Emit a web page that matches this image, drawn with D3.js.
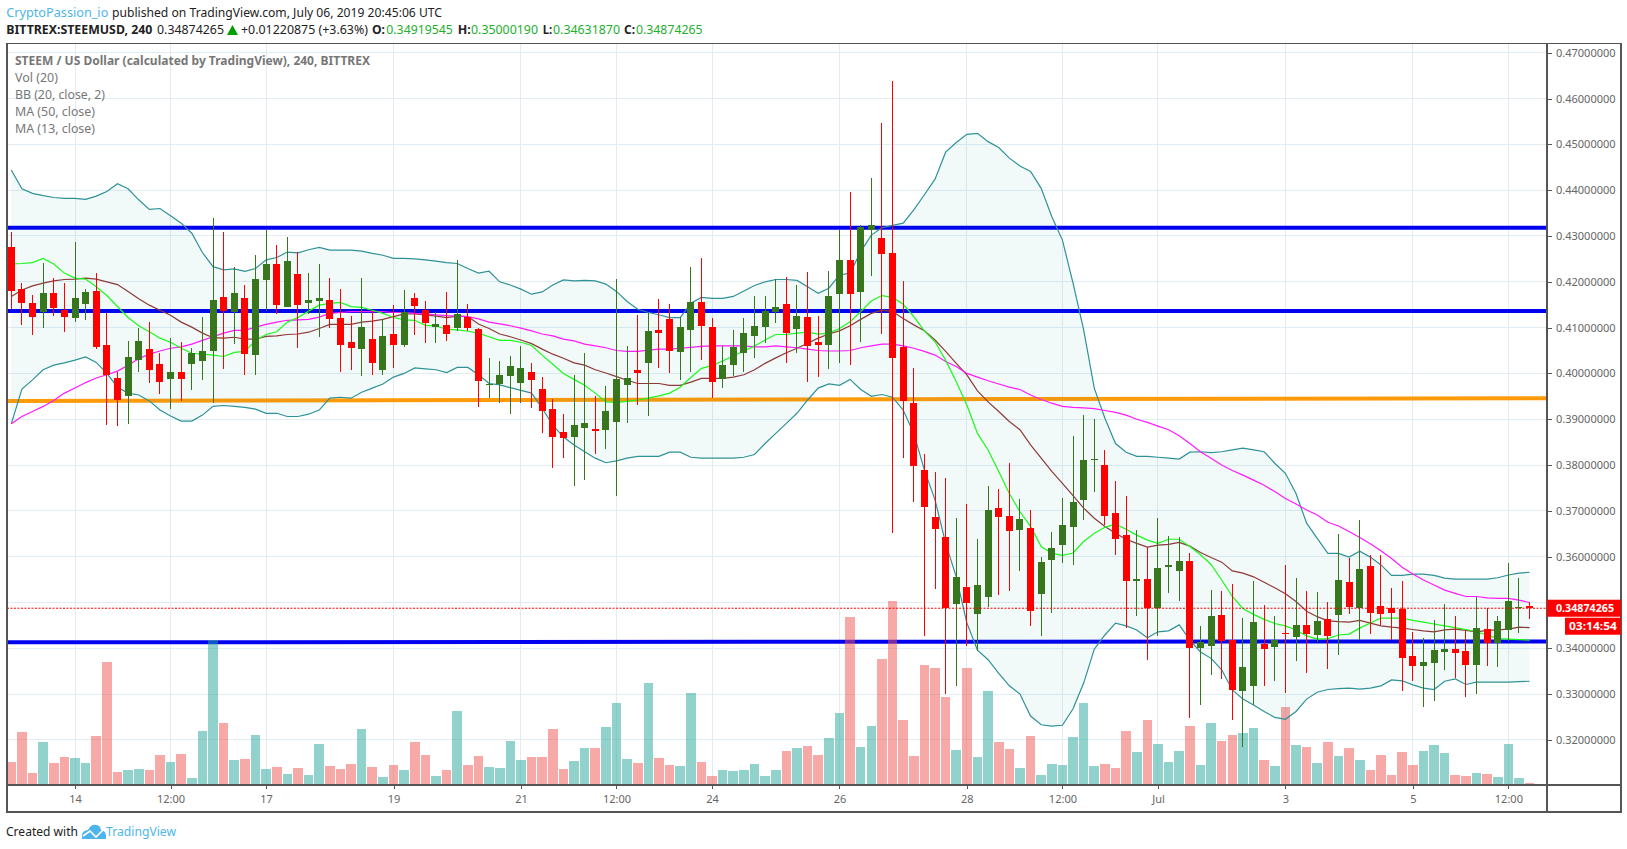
<!DOCTYPE html>
<meta charset="utf-8">
<style>
html, body { margin: 0; padding: 0; background: #fff; }
svg { display: block; font-family: "Noto Sans", "Open Sans", sans-serif; }
.grid { stroke: #e2ecf3; stroke-width: 1; shape-rendering: crispEdges; }
.frame { stroke: #555; stroke-width: 1.4; fill: none; shape-rendering: crispEdges; }
.axis text { fill: #666; font-size: 11px; font-family: "Noto Sans", sans-serif; }
.axis line { stroke: #555; shape-rendering: crispEdges; }
.legend { fill: #777; font-size: 12.5px; }
.head { fill: #222; font-size: 13px; }
.green { fill: #22b02c; }
.blue { fill: #4db5ec; }
.bold { font-weight: 700; }
.line { fill: none; stroke-width: 1.2; }
</style>
<body>
<script src="https://d3js.org/d3.v7.min.js"></script>
<script>

// prices are in 1/10000 USD
var opens = [4276,4184,4154,4134,4176,4139,4121,4152,4180,4062,
    3990,3951,4029,4053,4021,3988,4003,4021,4027,4049,
    4167,4134,4165,4040,4204,4239,4145,4217,4154,4158,
    4160,4121,4069,4053,4075,4008,4086,4062,4165,4139,
    4101,4106,4099,4123,4097,3975,3977,3994,3979,4003,
    3966,3922,3872,3861,3881,3879,3877,3894,3975,4008,
    4023,4095,4119,4047,4095,4156,4101,3988,4018,4045,
    4082,4101,4134,4152,4097,4123,4069,4062,4173,4248,
    4178,4313,4296,4263,4058,3936,3789,3687,3643,3497,
    3534,3475,3512,3706,3689,3658,3663,3519,3593,3626,
    3665,3724,3811,3800,3695,3647,3547,3551,3488,3578,
    3569,3591,3401,3405,3473,3418,3307,3318,3409,3403,
    3433,3425,3451,3429,3464,3473,3545,3488,3580,3492,
    3488,3486,3383,3361,3368,3392,3399,3394,3364,3442,
    3412,3440,3488,3492];

var highs = [4309,4197,4171,4240,4208,4197,4287,4184,4219,4132,
    4003,4071,4099,4112,4045,4077,4069,4056,4123,4339,
    4309,4232,4193,4259,4313,4280,4298,4265,4219,4239,
    4208,4184,4125,4208,4136,4118,4149,4182,4176,4158,
    4134,4178,4248,4152,4099,4034,4027,4038,4060,4023,
    3992,3944,3911,3997,4045,3951,3973,4206,4060,4128,
    4132,4162,4152,4123,4232,4252,4121,4060,4095,4121,
    4169,4169,4206,4210,4193,4221,4125,4224,4313,4396,
    4324,4427,4547,4638,4202,4012,3824,3785,3772,3684,
    3715,3639,3754,3748,3805,3726,3702,3599,3654,3728,
    3863,3909,3901,3833,3765,3732,3658,3622,3684,3645,
    3643,3608,3449,3527,3525,3540,3466,3547,3495,3471,
    3582,3553,3525,3523,3501,3650,3597,3680,3604,3604,
    3532,3547,3436,3423,3462,3497,3471,3438,3512,3487,
    3471,3586,3553,3500];

var lows = [4140,4106,4084,4099,4125,4090,4112,4117,4053,3887,
    3885,3890,4003,3979,3955,3922,3940,3964,3986,3935,
    4010,4064,3997,3997,4136,4130,4145,4056,4130,4080,
    4099,4003,4008,3994,3997,3997,4012,4058,4084,4066,
    4066,4071,4093,4093,3927,3946,3935,3912,3935,3925,
    3870,3794,3815,3754,3767,3824,3835,3732,3892,3931,
    3907,4012,4001,3986,4003,4029,3946,3968,3994,4003,
    4034,4066,4110,4023,4045,3981,3992,4010,4023,4018,
    4069,4213,4086,3652,3815,3719,3427,3530,3300,3318,
    3405,3394,3490,3516,3525,3569,3449,3427,3477,3586,
    3582,3680,3741,3669,3604,3444,3471,3375,3427,3521,
    3503,3248,3276,3342,3333,3244,3185,3276,3318,3329,
    3302,3372,3346,3414,3355,3385,3475,3418,3431,3451,
    3418,3307,3329,3272,3285,3353,3335,3294,3300,3361,
    3359,3416,3434,3463];

var closes = [4179,4154,4123,4176,4143,4123,4165,4178,4058,3997,
    3942,4036,4071,4008,3981,4003,3988,4045,4049,4160,
    4136,4176,4042,4206,4239,4149,4245,4149,4160,4165,
    4119,4062,4056,4101,4023,4082,4062,4134,4147,4110,
    4108,4086,4130,4099,3984,3977,3997,4016,4012,3986,
    3918,3861,3859,3887,3892,3874,3918,3988,3990,4001,
    4093,4088,4049,4101,4156,4104,3981,4018,4058,4088,
    4104,4136,4145,4088,4125,4060,4062,4169,4248,4173,
    4320,4324,4261,4034,3940,3798,3708,3660,3487,3556,
    3499,3538,3702,3687,3656,3682,3481,3588,3619,3669,
    3719,3811,3813,3689,3639,3547,3551,3488,3575,3582,
    3591,3401,3414,3471,3416,3309,3359,3457,3399,3418,
    3431,3451,3431,3460,3427,3549,3490,3573,3477,3475,
    3477,3379,3361,3370,3396,3399,3390,3364,3444,3412,
    3460,3503,3490,3487];

// volume has no axis on the chart, arbitrary units
var volumes = [69,159,36,129,66,84,81,66,147,369,
    39,45,48,45,90,69,93,21,162,435,
    186,75,78,150,48,54,33,51,30,123,
    57,48,63,168,54,24,60,45,129,90,
    27,45,222,60,87,54,51,132,75,84,
    84,168,48,72,111,111,174,246,78,66,
    306,81,60,57,276,69,27,45,42,45,
    63,27,45,102,111,117,90,141,216,504,
    114,177,378,552,195,87,360,351,264,105,
    351,84,282,129,108,51,147,30,63,60,
    144,246,57,63,51,162,99,195,123,69,
    102,177,60,186,132,150,156,171,75,57,
    234,120,114,66,129,87,111,75,45,90,
    30,99,60,102,120,96,30,27,36,33,
    24,123,21,6];

var bbUpper = [4444,4403,4393,4388,4384,4382,4382,4380,4387,4397,
    4414,4403,4379,4358,4360,4344,4328,4306,4264,4233,
    4226,4228,4223,4229,4248,4253,4265,4263,4270,4275,
    4269,4269,4269,4267,4262,4258,4251,4251,4250,4248,
    4245,4242,4240,4229,4219,4223,4200,4193,4184,4173,
    4178,4193,4204,4202,4203,4202,4195,4179,4157,4140,
    4133,4128,4122,4122,4153,4166,4164,4164,4168,4180,
    4192,4200,4205,4205,4203,4189,4175,4186,4215,4219,
    4266,4302,4318,4323,4328,4357,4390,4424,4483,4504,
    4522,4524,4506,4493,4470,4453,4441,4404,4342,4291,
    4197,4095,3968,3902,3847,3828,3819,3819,3817,3815,
    3813,3828,3829,3827,3829,3833,3837,3833,3829,3804,
    3782,3738,3673,3640,3607,3607,3599,3612,3599,3582,
    3559,3559,3562,3562,3559,3553,3551,3551,3551,3551,
    3554,3560,3564,3566];

var bbLower = [3890,3966,3986,4008,4018,4023,4029,4036,4024,4000,
    3970,3957,3953,3940,3920,3907,3896,3896,3909,3928,
    3930,3928,3926,3922,3913,3913,3906,3906,3911,3920,
    3946,3948,3946,3959,3968,3977,3992,4000,4012,4010,
    4008,4002,4013,4013,3997,3978,3975,3969,3963,3957,
    3924,3887,3861,3844,3829,3815,3805,3809,3815,3819,
    3819,3819,3828,3828,3817,3815,3815,3815,3815,3817,
    3823,3847,3869,3891,3913,3942,3968,3977,3974,3987,
    3965,3950,3954,3948,3920,3869,3789,3724,3629,3556,
    3455,3396,3375,3345,3318,3300,3252,3233,3230,3232,
    3268,3324,3398,3429,3455,3449,3440,3423,3436,3438,
    3451,3418,3392,3378,3353,3309,3289,3276,3262,3249,
    3245,3262,3289,3304,3310,3312,3313,3311,3313,3318,
    3331,3329,3320,3313,3310,3328,3333,3321,3326,3326,
    3326,3326,3327,3328];

var bbBasis = [4168,4182,4191,4197,4202,4205,4206,4208,4206,4200,
    4194,4179,4163,4149,4138,4127,4112,4101,4088,4078,
    4077,4079,4075,4075,4081,4082,4085,4086,4090,4098,
    4107,4107,4107,4112,4114,4118,4124,4130,4130,4128,
    4125,4122,4125,4124,4108,4098,4086,4080,4073,4065,
    4053,4042,4033,4023,4018,4008,4001,3993,3985,3978,
    3978,3978,3974,3974,3981,3989,3989,3989,3992,3997,
    4008,4022,4034,4045,4055,4066,4077,4086,4093,4104,
    4118,4131,4138,4135,4120,4106,4093,4073,4048,4022,
    3997,3962,3938,3917,3895,3877,3844,3815,3786,3760,
    3733,3706,3684,3666,3651,3638,3629,3621,3625,3627,
    3631,3623,3609,3598,3588,3569,3564,3556,3544,3532,
    3519,3502,3481,3469,3460,3458,3457,3461,3455,3449,
    3446,3444,3441,3438,3436,3440,3442,3439,3436,3439,
    3440,3442,3446,3445];

var ma13 = [4239,4240,4242,4251,4239,4219,4208,4206,4189,4170,
    4146,4122,4104,4091,4077,4068,4055,4044,4042,4040,
    4037,4046,4048,4072,4085,4091,4112,4122,4136,4149,
    4153,4155,4146,4144,4138,4131,4122,4117,4116,4105,
    4104,4096,4095,4092,4088,4080,4072,4072,4068,4061,
    4040,4020,4000,3987,3974,3957,3938,3937,3939,3942,
    3946,3951,3957,3970,3991,4011,4017,4027,4038,4049,
    4060,4073,4085,4085,4088,4090,4086,4088,4098,4113,
    4135,4158,4170,4166,4151,4124,4093,4069,4029,3982,
    3931,3869,3833,3786,3738,3698,3666,3622,3607,3603,
    3608,3633,3651,3664,3671,3660,3647,3636,3629,3638,
    3638,3622,3604,3583,3549,3513,3487,3474,3463,3454,
    3449,3440,3427,3420,3421,3429,3431,3444,3455,3466,
    3466,3466,3461,3457,3453,3449,3445,3441,3436,3429,
    3421,3420,3419,3418];

var ma50 = [3890,3906,3917,3928,3941,3957,3968,3980,3990,3997,
    4005,4018,4032,4042,4049,4055,4058,4064,4072,4080,
    4088,4094,4094,4101,4107,4112,4116,4117,4118,4123,
    4131,4133,4135,4135,4135,4135,4133,4133,4131,4130,
    4128,4126,4125,4124,4119,4112,4108,4104,4099,4093,
    4086,4082,4075,4071,4064,4060,4056,4050,4048,4048,
    4051,4053,4053,4055,4057,4059,4060,4060,4060,4060,
    4058,4058,4060,4058,4056,4053,4050,4049,4049,4050,
    4056,4060,4064,4064,4060,4055,4048,4040,4026,4015,
    4000,3992,3984,3977,3970,3965,3953,3943,3935,3928,
    3926,3925,3923,3919,3915,3909,3900,3893,3885,3877,
    3864,3847,3829,3815,3800,3788,3778,3767,3756,3742,
    3727,3715,3702,3691,3675,3667,3655,3642,3628,3613,
    3596,3577,3562,3549,3538,3527,3520,3513,3513,3510,
    3509,3509,3505,3500];

// hand drawn levels: price at first and last candle
var levelStart = [4318, 4136, 3940, 3413];
var levelEnd = [4318, 4136, 3946, 3415];
var levelColors = ["#0000f0", "#0000f0", "#ff9a0a", "#0000f0"];

var priceTicks = [3200,3300,3400,3500,3600,3700,3800,3900,4000,4100,4200,4300,4400,4500,4600,4700];
// the 0.35 label sits under the last price tag
var priceLabels = [3200,3300,3400,3600,3700,3800,3900,4000,4100,4200,4300,4400,4500,4600,4700];
var timeTickIndex = [6,15,24,36,48,57,66,78,90,99,108,120,132,141];
var timeTickLabels = ["14","12:00","17","19","21","12:00","24","26","28","12:00","Jul","3","5","12:00"];

var lastPrice = 3487.4265;

var width = 1627, height = 849;
var pane = {left: 7, right: 1547, top: 43.5, bottom: 785, outerRight: 1621, outerBottom: 812};

var svg = d3.select("body").append("svg")
    .attr("width", width)
    .attr("height", height);

// candle index to x, all candles are 4 hours apart
var x = d3.scaleLinear().domain([0, 143]).range([11.3, 1529.6]);
var y = d3.scaleLinear().domain([3100, 4700]).range([785.7, 52.76]);
var yVol = d3.scaleLinear().domain([0, 552]).range([785, 601]);

var candles = d3.range(opens.length);
function isUp(i) { return closes[i] >= opens[i]; }

// grid
svg.append("g").selectAll("line").data(priceTicks).enter().append("line")
    .attr("class", "grid")
    .attr("x1", pane.left).attr("x2", pane.right)
    .attr("y1", function(d) { return y(d); })
    .attr("y2", function(d) { return y(d); });
svg.append("g").selectAll("line").data(timeTickIndex).enter().append("line")
    .attr("class", "grid")
    .attr("x1", function(d) { return x(d); })
    .attr("x2", function(d) { return x(d); })
    .attr("y1", pane.top).attr("y2", pane.bottom);

// levels
svg.append("g").selectAll("line").data(levelStart).enter().append("line")
    .attr("x1", pane.left + 0.6).attr("x2", pane.right)
    .attr("y1", function(d) { return y(d); })
    .attr("y2", function(d, i) { return y(levelEnd[i]); })
    .attr("stroke", function(d, i) { return levelColors[i]; })
    .attr("stroke-width", 4);

// volume
svg.append("g").selectAll("rect").data(candles).enter().append("rect")
    .attr("x", function(i) { return x(i) - 4.8; })
    .attr("width", 9.6)
    .attr("y", function(i) { return yVol(volumes[i]); })
    .attr("height", function(i) { return yVol(0) - yVol(volumes[i]); })
    .attr("fill", function(i) { return isUp(i) ? "#26a69a" : "#ef5350"; })
    .attr("fill-opacity", 0.5)
    .attr("shape-rendering", "crispEdges");

// bollinger band
var band = d3.area()
    .x(function(i) { return x(i); })
    .y0(function(i) { return y(bbLower[i]); })
    .y1(function(i) { return y(bbUpper[i]); });
svg.append("path").datum(candles)
    .attr("d", band)
    .attr("fill", "#008080")
    .attr("fill-opacity", 0.05);

function addLine(values, color) {
    var line = d3.line()
        .x(function(d, i) { return x(i); })
        .y(function(d) { return y(d); });
    svg.append("path").datum(values)
        .attr("class", "line")
        .attr("stroke", color)
        .attr("d", line);
}
addLine(bbUpper, "#2e9298");
addLine(bbLower, "#2e9298");
addLine(bbBasis, "#8e3a3a");
addLine(ma50, "#ff19ff");
addLine(ma13, "#19fa19");

// candles
var candle = svg.append("g").selectAll("g").data(candles).enter().append("g")
    .attr("shape-rendering", "crispEdges");
candle.append("line")
    .attr("x1", function(i) { return x(i); })
    .attr("x2", function(i) { return x(i); })
    .attr("y1", function(i) { return y(highs[i]); })
    .attr("y2", function(i) { return y(lows[i]); })
    .attr("stroke", function(i) { return isUp(i) ? "#38761d" : "#ff0000"; });
candle.append("rect")
    .attr("x", function(i) { return x(i) - 3.5; })
    .attr("width", 7)
    .attr("y", function(i) { return y(Math.max(opens[i], closes[i])); })
    .attr("height", function(i) { return Math.max(1, Math.abs(y(opens[i]) - y(closes[i]))); })
    .attr("fill", function(i) { return isUp(i) ? "#38761d" : "#ff0000"; });

// last price line
svg.append("line")
    .attr("x1", pane.left).attr("x2", pane.right)
    .attr("y1", y(lastPrice)).attr("y2", y(lastPrice))
    .attr("stroke", "#ff0000")
    .attr("stroke-dasharray", "2 1.5");

// axes
svg.append("g")
    .attr("class", "axis")
    .attr("transform", "translate(0," + pane.bottom + ")")
    .call(d3.axisBottom(x)
        .tickValues(timeTickIndex)
        .tickFormat(function(d, i) { return timeTickLabels[i]; })
        .tickSize(4)
        .tickPadding(6))
    .call(function(g) { g.select(".domain").remove(); });

svg.append("g")
    .attr("class", "axis")
    .attr("transform", "translate(" + pane.right + ",0)")
    .call(d3.axisRight(y)
        .tickValues(priceLabels)
        .tickFormat(function(d) { return (d / 10000).toFixed(8); })
        .tickSize(5)
        .tickPadding(4))
    .call(function(g) { g.select(".domain").remove(); });

// frame
svg.append("rect").attr("class", "frame")
    .attr("x", pane.left).attr("y", pane.top)
    .attr("width", pane.outerRight - pane.left)
    .attr("height", pane.outerBottom - pane.top);
svg.append("line").attr("class", "frame")
    .attr("x1", pane.left).attr("x2", pane.outerRight)
    .attr("y1", pane.bottom).attr("y2", pane.bottom);
svg.append("line").attr("class", "frame")
    .attr("x1", pane.right).attr("x2", pane.right)
    .attr("y1", pane.top).attr("y2", pane.outerBottom);

// price tags
svg.append("rect")
    .attr("x", pane.right).attr("width", pane.outerRight - pane.right)
    .attr("y", y(lastPrice) - 8.5).attr("height", 17)
    .attr("fill", "#ff0000");
svg.append("rect")
    .attr("x", 1565).attr("width", pane.outerRight - 1565)
    .attr("y", y(lastPrice) + 9.5).attr("height", 17)
    .attr("fill", "#ff0000");
text(1556, y(lastPrice) + 4, (lastPrice / 10000).toFixed(8), "bold", 58).style("fill", "#fff").style("font-size", "11px");
text(1569, y(lastPrice) + 22, "03:14:54", "bold", 48).style("fill", "#fff").style("font-size", "11px");

function text(px, py, str, cls, len) {
    var t = svg.append("text")
        .attr("x", px).attr("y", py)
        .attr("class", cls)
        .text(str);
    if (len) t.attr("textLength", len).attr("lengthAdjust", "spacingAndGlyphs");
    return t;
}

// header
text(6.3, 17, "CryptoPassion_io", "head blue", 102);
text(112, 17, "published on TradingView.com, July 06, 2019 20:45:06 UTC", "head", 330);
text(6.3, 34, "BITTREX:STEEMUSD, 240", "head bold", 146);
text(157, 34, "0.34874265", "head", 67);
svg.append("path")
    .attr("d", d3.line()([[227, 35], [232.5, 25], [238, 35]]) + "Z")
    .attr("fill", "#00a000");
text(241, 34, "+0.01220875 (+3.63%)", "head", 127);
text(372, 34, "O:", "head bold", 13);
text(386.3, 34, "0.34919545", "head green", 66.5);
text(457.7, 34, "H:", "head bold", 13);
text(471, 34, "0.35000190", "head green", 67);
text(542.7, 34, "L:", "head bold", 9.5);
text(553, 34, "0.34631870", "head green", 67);
text(624, 34, "C:", "head bold", 11);
text(636, 34, "0.34874265", "head green", 66.5);

// legend
text(15, 65, "STEEM / US Dollar (calculated by TradingView), 240, BITTREX", "legend bold", 355);
text(15, 82, "Vol (20)", "legend", 43);
text(15, 99, "BB (20, close, 2)", "legend", 90);
text(15, 116, "MA (50, close)", "legend", 80);
text(15, 133, "MA (13, close)", "legend", 80);

// footer
text(6, 836, "Created with", "head", 72);
svg.append("path")
    .attr("d", "M82 839 L82 834 Q84 830 88 830 Q91 824 96 825 Q100 825 101 830 Q106 831 106 836 L106 839 Z")
    .attr("fill", "#4db5ec");
svg.append("path")
    .attr("d", "M83 836 L90 831 L96 837 L104 829")
    .attr("fill", "none").attr("stroke", "#fff").attr("stroke-width", 1.6);
text(106, 836, "TradingView", "head blue", 70);

</script>
</body>
